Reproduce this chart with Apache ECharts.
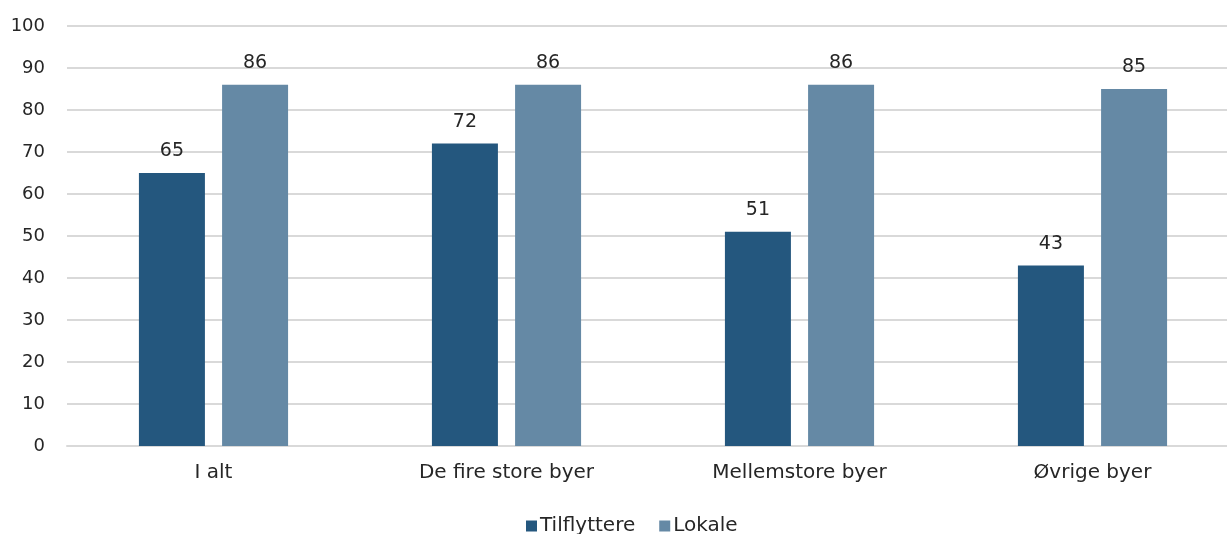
<!DOCTYPE html>
<html>
<head>
<meta charset="utf-8">
<script src="https://cdn.jsdelivr.net/npm/echarts@6/dist/echarts.min.js"></script>
<style>html,body{margin:0;padding:0;background:#fff}#c{width:1227px;height:534px}</style>
</head>
<body>
<div id="c"></div>
<script>
const categories = ['I alt', 'De fire store byer', 'Mellemstore byer', 'Øvrige byer'];
const tilflyttere = [65, 72, 51, 43];
const lokale = [86, 86, 86, 85];
const seriesNames = ['Tilflyttere', 'Lokale'];

const FONT = 'DejaVu Sans';
const TXT = '#262626';
const chart = echarts.init(document.getElementById('c'), null, {renderer: 'canvas'});
const labelCfg = {show: true, position: 'top', distance: 12, color: TXT, fontFamily: FONT, fontSize: 19};
chart.setOption({
  animation: false,
  textStyle: {fontFamily: FONT},
  grid: {left: 67, top: 26, width: 1172, height: 420, containLabel: false, outerBoundsMode: 'none'},
  legend: {
    data: seriesNames, left: 521, top: 511, icon: 'rect', itemWidth: 11, itemHeight: 11, itemGap: 24,
    textStyle: {color: TXT, fontFamily: FONT, fontSize: 20, padding: [0, 0, 0, -2]}
  },
  xAxis: {
    type: 'category', data: categories,
    axisLine: {lineStyle: {color: '#d9d9d9', width: 2}},
    axisTick: {show: false},
    axisLabel: {color: TXT, fontFamily: FONT, fontSize: 20, margin: 17}
  },
  yAxis: {
    type: 'value', min: 0, max: 100, interval: 10,
    axisLine: {show: false}, axisTick: {show: false},
    splitLine: {lineStyle: {color: '#d9d9d9', width: 2}},
    axisLabel: {color: TXT, fontFamily: FONT, fontSize: 18, margin: 22}
  },
  series: [
    {name: seriesNames[0], type: 'bar', data: tilflyttere, barWidth: 66, barGap: '26%',
     itemStyle: {color: '#24577e'}, label: labelCfg},
    {name: seriesNames[1], type: 'bar', data: lokale, barWidth: 66,
     itemStyle: {color: '#6589a5'}, label: labelCfg}
  ]
});
</script>
</body>
</html>
